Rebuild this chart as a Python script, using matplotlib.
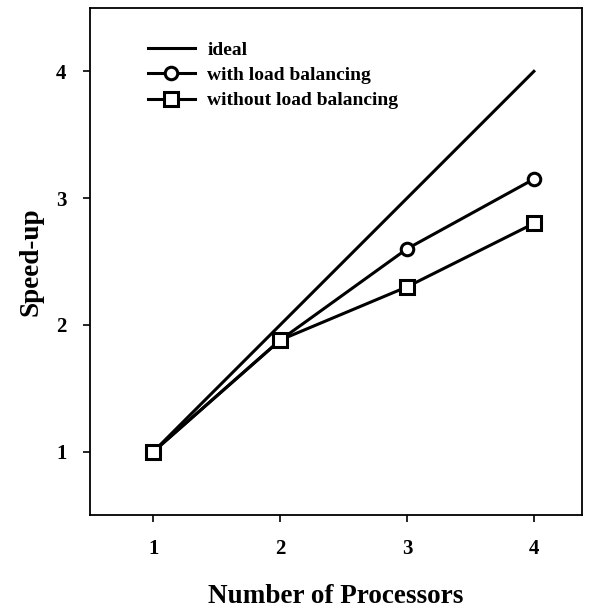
import matplotlib
matplotlib.use("Agg")
import matplotlib.pyplot as plt

processors = [1, 2, 3, 4]
ideal = [1, 2, 3, 4]
with_lb = [1.0, 1.88, 2.6, 3.15]
without_lb = [1.0, 1.88, 2.3, 2.8]

plt.rcParams['font.family'] = ['Liberation Serif', 'DejaVu Serif']
plt.rcParams['font.weight'] = 'bold'

fig = plt.figure(figsize=(5.97, 6.09), dpi=100)
ax = fig.add_axes([0.1508, 0.1544, 0.8242, 0.8325])

lw = 2.2
ax.plot(processors, ideal, color='black', lw=lw, label='ideal')
ax.plot(processors, with_lb, color='black', lw=lw, marker='o', markersize=9,
        markerfacecolor='white', markeredgewidth=2.2, label='with load balancing')
ax.plot(processors, without_lb, color='black', lw=lw, marker='s', markersize=9.5,
        markerfacecolor='white', markeredgewidth=2.2, label='without load balancing')

ax.set_xlim(0.5, 4.38)
ax.set_ylim(0.5, 4.5)
ax.set_xticks([1, 2, 3, 4])
ax.set_yticks([1, 2, 3, 4])
ax.tick_params(direction='out', length=5, width=1.2, labelsize=15, pad=12)
for lab in ax.get_xticklabels() + ax.get_yticklabels():
    lab.set_fontweight('bold')
for s in ax.spines.values():
    s.set_linewidth(1.3)

ax.set_xlabel('Number of Processors', fontsize=19.5, fontweight='bold', labelpad=18)
ax.set_ylabel('Speed-up', fontsize=19.5, fontweight='bold', labelpad=9)

leg = ax.legend(loc='upper left', bbox_to_anchor=(0.118, 0.935), frameon=False,
                prop={'weight': 'bold', 'size': 14}, handlelength=2.4,
                handletextpad=0.65, labelspacing=0.4, borderaxespad=0,
                borderpad=0)

fig.savefig('out.png', dpi=100)
